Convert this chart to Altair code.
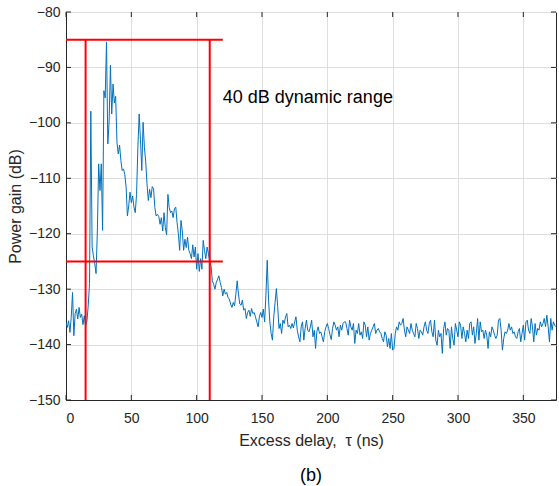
import altair as alt
import pandas as pd

# ---------------- data ----------------
power_db = [
    # 0-18 ns
    -136.0, -136.9, -135.7, -137.8, -135.1, -130.6, -138.4, -134.4, -133.6, -135.4,
    -133.3, -135.1, -134.5, -136.4, -134.8, -136.6, -135.8, -133.0, -129.0,
    # 19-41 ns
    -97.9, -122.4, -124.0, -125.4, -127.2, -119.5, -107.4, -112.2, -107.4, -119.4,
    -94.2, -95.5, -85.4, -103.8, -99.7, -89.6, -98.4, -93.0, -96.4, -95.2,
    -103.5, -105.6, -104.0,
    # 42-82 ns
    -106.8, -108.6, -108.3, -109.3, -111.6, -116.8, -115.0, -112.5, -114.4, -113.2,
    -115.2, -116.2, -112.9, -104.4, -98.4, -103.0, -108.6, -99.9, -104.4, -107.0,
    -111.0, -114.0, -112.0, -113.5, -111.5, -111.9, -115.3, -116.8, -116.5, -116.9,
    -118.3, -117.1, -119.5, -116.2, -118.9, -120.2, -112.9, -115.3, -116.2, -115.9,
    -117.1,
    # 83-133 ns
    -115.5, -115.2, -118.0, -120.0, -123.0, -117.6, -119.5, -123.0, -121.0, -122.5,
    -120.6, -123.0, -123.6, -124.5, -122.0, -124.2, -122.4, -126.4, -123.6, -126.8,
    -124.5, -126.4, -121.2, -123.0, -124.5, -122.4, -123.6, -125.0, -125.8, -128.5,
    -129.1, -130.0, -128.8, -128.2, -127.6, -128.8, -129.7, -131.2, -130.0, -130.9,
    -130.6, -131.5, -131.8, -132.7, -133.3, -132.4, -133.0, -130.9, -128.5, -130.9,
    -132.7,
    # 134-213 ns
    -132.9, -132.0, -133.8, -133.5, -135.3, -134.2, -133.8, -134.9, -133.5, -134.4,
    -134.2, -135.0, -135.9, -136.8, -135.0, -134.2, -135.1, -133.6, -135.9, -131.1,
    -124.8, -132.0, -135.9, -138.0, -139.2, -135.0, -132.4, -129.9, -133.1, -137.1,
    -136.2, -138.0, -135.6, -136.2, -135.0, -134.4, -136.8, -136.5, -137.1, -136.2,
    -137.0, -135.9, -135.0, -137.4, -138.6, -139.5, -136.8, -135.9, -139.2, -137.1,
    -135.6, -137.4, -137.7, -136.8, -135.6, -138.6, -137.4, -140.7, -137.6, -136.8,
    -138.0, -137.7, -138.6, -139.5, -137.7, -136.8, -136.2, -137.1, -138.2, -139.1,
    -137.1, -135.9, -136.5, -137.4, -136.8, -138.6, -136.5, -137.4, -136.2, -135.9,
    # 214-292 ns
    -135.9, -137.1, -138.3, -135.6, -136.8, -137.4, -136.2, -139.8, -137.4, -138.0,
    -136.2, -138.3, -137.7, -138.9, -135.9, -136.5, -138.6, -136.8, -139.2, -138.0,
    -137.4, -136.8, -136.2, -138.0, -137.4, -137.1, -137.7, -138.0, -138.9, -139.5,
    -137.7, -138.3, -140.4, -138.9, -140.7, -138.0, -141.0, -140.7, -138.0, -136.8,
    -137.4, -135.9, -136.5, -136.2, -135.3, -137.4, -138.6, -136.8, -137.4, -138.0,
    -136.2, -137.4, -138.0, -138.6, -136.2, -137.1, -138.9, -137.4, -137.7, -138.3,
    -136.8, -135.9, -137.4, -138.0, -136.2, -135.6, -137.7, -138.6, -135.6, -139.2,
    -140.1, -137.4, -138.6, -138.0, -141.6, -137.1, -135.9, -138.3, -137.1,
    # 293-375 ns
    -137.4, -140.7, -136.8, -138.9, -140.1, -136.2, -137.4, -138.6, -135.9, -136.5,
    -138.9, -136.8, -138.0, -139.5, -137.4, -138.9, -136.2, -135.9, -138.3, -136.8,
    -139.8, -138.0, -135.3, -139.2, -135.9, -137.7, -137.4, -138.9, -137.4, -138.3,
    -140.7, -137.7, -138.6, -136.8, -137.4, -138.3, -138.9, -138.3, -135.6, -135.3,
    -137.4, -141.0, -138.9, -137.7, -138.0, -137.4, -136.2, -137.4, -136.8, -138.0,
    -137.7, -138.6, -138.9, -137.7, -137.1, -139.5, -138.0, -136.5, -139.2, -135.9,
    -135.6, -137.4, -138.0, -135.3, -136.8, -139.5, -136.2, -138.3, -137.1, -137.4,
    -135.9, -136.8, -136.2, -135.3, -136.8, -134.7, -136.8, -139.5, -135.3, -137.4,
    -135.9, -136.5, -136.8,
]
delay_ns = list(range(len(power_db)))

# red dynamic-range box (two horizontal, two vertical segments)
box_x_start = [0, 0, 15, 110]
box_x_end = [120, 120, 15, 110]
box_y_start = [-85, -125, -85, -85]
box_y_end = [-85, -125, -150, -150]

note_text = ["40 dB dynamic range"]
note_x = [120]
note_y = [-95.5]

x_ticks = [0, 50, 100, 150, 200, 250, 300, 350]
y_ticks = [-150, -140, -130, -120, -110, -100, -90, -80]
x_domain = [0, 375]
y_domain = [-150, -80]

# ---------------- chart ----------------
W, H = 490, 388
FONT = "Liberation Sans"
AX = "#262626"
X_TITLE = "Excess delay, \u00a0\u03c4 (ns)"
Y_TITLE = "Power gain (dB)"

xs = alt.Scale(domain=x_domain, nice=False, zero=False)
ys = alt.Scale(domain=y_domain, nice=False, zero=False)


def xenc(field):
    return alt.X(field, type="quantitative", scale=xs, title=X_TITLE,
                 axis=alt.Axis(values=x_ticks, format="d"))


def yenc(field):
    return alt.Y(field, type="quantitative", scale=ys, title=Y_TITLE,
                 axis=alt.Axis(values=y_ticks, format="d"))


pdp = pd.DataFrame({"x": delay_ns, "y": power_db})
line = alt.Chart(pdp).mark_line(color="#0072BD", strokeWidth=1.0, clip=True).encode(
    x=xenc("x"), y=yenc("y")
)

box = pd.DataFrame({"x": box_x_start, "x2": box_x_end, "y": box_y_start, "y2": box_y_end})
red = alt.Chart(box).mark_rule(color="#FF0000", strokeWidth=2).encode(
    x=xenc("x"), x2=alt.X2("x2", title=X_TITLE),
    y=yenc("y"), y2=alt.Y2("y2", title=Y_TITLE),
)

note = pd.DataFrame({"x": note_x, "y": note_y, "t": note_text})
label = alt.Chart(note).mark_text(
    align="left", baseline="middle", fontSize=18, font=FONT, color="#000000"
).encode(x=xenc("x"), y=yenc("y"), text="t:N")

# inward tick marks (MATLAB style) on all four sides
xt = pd.DataFrame({"x": x_ticks})
yt = pd.DataFrame({"y": y_ticks})
TL = 5
tick_bottom = alt.Chart(xt).mark_rule(color=AX, strokeWidth=1).encode(
    x=xenc("x"), y=alt.value(H), y2=alt.value(H - TL))
tick_top = alt.Chart(xt).mark_rule(color=AX, strokeWidth=1).encode(
    x=xenc("x"), y=alt.value(0), y2=alt.value(TL))
tick_left = alt.Chart(yt).mark_rule(color=AX, strokeWidth=1).encode(
    y=yenc("y"), x=alt.value(0), x2=alt.value(TL))
tick_right = alt.Chart(yt).mark_rule(color=AX, strokeWidth=1).encode(
    y=yenc("y"), x=alt.value(W), x2=alt.value(W - TL))

chart = alt.layer(line, red, label, tick_bottom, tick_top, tick_left, tick_right).properties(
    width=W,
    height=H,
    autosize=alt.AutoSizeParams(type="none"),
    padding={"left": 66, "top": 12, "right": 3, "bottom": 86},
    title=alt.TitleParams(
        "(b)", orient="bottom", anchor="middle", fontSize=18, font=FONT,
        fontWeight="normal", color="#000000", offset=19,
    ),
    background="white",
).configure_view(
    stroke=AX, strokeWidth=1,
).configure_axis(
    grid=True, gridColor="#dedede", gridWidth=1,
    domainColor=AX, domainWidth=1,
    ticks=False,
    labelFont=FONT, labelFontSize=14, labelColor=AX,
    titleFont=FONT, titleFontSize=16, titleColor=AX, titleFontWeight="normal",
).configure_axisX(
    labelPadding=11, titlePadding=7,
).configure_axisY(
    labelPadding=6, titlePadding=5,
)

chart.save("out.html", embed_options={"renderer": "svg", "actions": False})
